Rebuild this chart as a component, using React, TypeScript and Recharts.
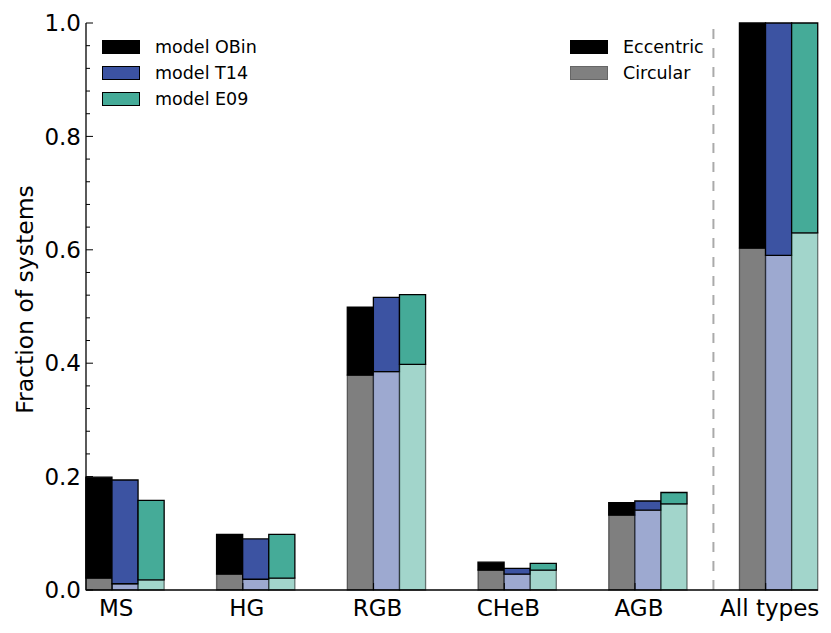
import React from "react";
import { BarChart, Bar, XAxis, YAxis, ReferenceLine } from "recharts";

// stellar evolutionary phase of the systems
const CATEGORIES = ["MS", "HG", "RGB", "CHeB", "AGB", "All types"];
// group centres and tick positions on the numeric x axis
const GROUP_X = [0.3, 1.3, 2.3, 3.3, 4.3, 5.3];
const TICK_X = [0.2, 1.2, 2.2, 3.2, 4.2, 5.2];
const Y_TICKS = [
  0, 0.04, 0.08, 0.12, 0.16, 0.2, 0.24, 0.28, 0.32, 0.36, 0.4, 0.44, 0.48, 0.52, 0.56, 0.6,
  0.64, 0.68, 0.72, 0.76, 0.8, 0.84, 0.88, 0.92, 0.96, 1.0,
];

// total fraction (eccentric + circular) and circular fraction per model
const OBIN_TOTAL = [0.199, 0.098, 0.499, 0.049, 0.154, 1.0];
const OBIN_CIRC = [0.021, 0.028, 0.379, 0.035, 0.132, 0.603];
const T14_TOTAL = [0.194, 0.09, 0.516, 0.038, 0.157, 1.0];
const T14_CIRC = [0.011, 0.019, 0.385, 0.028, 0.141, 0.59];
const E09_TOTAL = [0.158, 0.098, 0.521, 0.047, 0.172, 1.0];
const E09_CIRC = [0.018, 0.021, 0.398, 0.035, 0.152, 0.63];

const MODELS = [
  { key: "obin", name: "model OBin", color: "#000000", total: OBIN_TOTAL, circ: OBIN_CIRC },
  { key: "t14", name: "model T14", color: "#3c53a2", total: T14_TOTAL, circ: T14_CIRC },
  { key: "e09", name: "model E09", color: "#45ab98", total: E09_TOTAL, circ: E09_CIRC },
];

const ORBITS = [
  { name: "Eccentric", fill: "#000000", border: "#000000" },
  { name: "Circular", fill: "#808080", border: "#666666" },
];

const FONT = "'DejaVu Sans', sans-serif";

type Row = { x: number } & Record<string, number>;

const data: Row[] = CATEGORIES.map((_, i) => {
  const row: Row = { x: GROUP_X[i] };
  for (const m of MODELS) {
    row[m.key + "Circ"] = m.circ[i];
    row[m.key + "Ecc"] = m.total[i] - m.circ[i];
  }
  return row;
});

function isMajor(v: number) {
  return Math.abs(v * 5 - Math.round(v * 5)) < 1e-6;
}

function LeftTick(props: any) {
  const { x, y, payload } = props;
  const v = payload.value as number;
  const major = isMajor(v);
  return (
    <g>
      <line x1={x} x2={x + (major ? 7 : 4)} y1={y} y2={y} stroke="#000" />
      {major && (
        <text x={x - 5} y={y} dy="0.36em" textAnchor="end" fontSize={23} fontFamily={FONT} fill="#000">
          {v.toFixed(1)}
        </text>
      )}
    </g>
  );
}

function RightTick(props: any) {
  const { x, y, payload } = props;
  const major = isMajor(payload.value as number);
  return <line x1={x} x2={x - (major ? 7 : 4)} y1={y} y2={y} stroke="#000" />;
}

function BottomTick(props: any) {
  const { x, y, index } = props;
  return (
    <g>
      <line x1={x} x2={x} y1={y} y2={y - 7} stroke="#000" />
      <text x={x + 4} y={y + 26} textAnchor="middle" fontSize={23} fontFamily={FONT} fill="#000">
        {CATEGORIES[index]}
      </text>
    </g>
  );
}

function TopTick(props: any) {
  const { x, y } = props;
  return <line x1={x} x2={x} y1={y} y2={y + 7} stroke="#000" />;
}

function YLabel(props: any) {
  const vb = props.viewBox || { x: 0, y: 23, height: 567 };
  const cy = vb.y + vb.height / 2 - 7;
  return (
    <text
      transform={`translate(${vb.x + 33},${cy}) rotate(-90)`}
      textAnchor="middle"
      fontSize={23.5}
      fontFamily={FONT}
      fill="#000"
    >
      Fraction of systems
    </text>
  );
}

function LegendRow({ fill, border, label }: { fill: string; border: string; label: string }) {
  return (
    <div style={{ display: "flex", alignItems: "center", height: 26 }}>
      <div
        style={{
          width: 36,
          height: 12,
          background: fill,
          border: `1px solid ${border}`,
          marginRight: 15,
        }}
      />
      <span style={{ fontSize: 17.5, fontFamily: FONT, color: "#000", whiteSpace: "nowrap" }}>{label}</span>
    </div>
  );
}

const axisLine = { stroke: "#000", strokeWidth: 1.3 };

export default function App() {
  return (
    <div style={{ position: "absolute", left: 0, top: 0, width: 831, height: 633, background: "#fff" }}>
      <BarChart
        width={831}
        height={633}
        data={data}
        margin={{ top: 23, right: 13, bottom: 0, left: 0 }}
        barSize={26.1}
        barGap={0}
      >
        <XAxis
          dataKey="x"
          type="number"
          domain={[0, 5.6]}
          ticks={TICK_X}
          interval={0}
          height={43}
          tickSize={0}
          tickMargin={0}
          tickLine={false}
          axisLine={axisLine}
          tick={<BottomTick />}
        />
        <XAxis
          xAxisId="top"
          orientation="top"
          type="number"
          domain={[0, 5.6]}
          ticks={TICK_X}
          interval={0}
          height={0}
          tickSize={0}
          tickMargin={0}
          tickLine={false}
          axisLine={axisLine}
          tick={<TopTick />}
        />
        <YAxis
          type="number"
          domain={[0, 1]}
          ticks={Y_TICKS}
          interval={0}
          width={86}
          tickSize={0}
          tickMargin={0}
          tickLine={false}
          axisLine={axisLine}
          tick={<LeftTick />}
          label={<YLabel />}
        />
        <YAxis
          yAxisId="right"
          orientation="right"
          type="number"
          domain={[0, 1]}
          ticks={Y_TICKS}
          interval={0}
          width={0}
          tickSize={0}
          tickMargin={0}
          tickLine={false}
          axisLine={axisLine}
          tick={<RightTick />}
        />
        {MODELS.map((m) => [
          <Bar
            key={m.key + "Circ"}
            dataKey={m.key + "Circ"}
            stackId={m.key}
            fill={m.color}
            fillOpacity={0.5}
            stroke="#000"
            strokeOpacity={0.5}
            strokeWidth={1.3}
            isAnimationActive={false}
          />,
          <Bar
            key={m.key + "Ecc"}
            dataKey={m.key + "Ecc"}
            stackId={m.key}
            fill={m.color}
            stroke="#000"
            strokeWidth={1.3}
            isAnimationActive={false}
          />,
        ])}
        <ReferenceLine x={4.8} stroke="#aaaaaa" strokeWidth={2} strokeDasharray="10 9" />
      </BarChart>
      <div style={{ position: "absolute", left: 102, top: 34 }}>
        {MODELS.map((m) => (
          <LegendRow key={m.key} fill={m.color} border="#000" label={m.name} />
        ))}
      </div>
      <div style={{ position: "absolute", left: 570, top: 34 }}>
        {ORBITS.map((o) => (
          <LegendRow key={o.name} fill={o.fill} border={o.border} label={o.name} />
        ))}
      </div>
    </div>
  );
}
